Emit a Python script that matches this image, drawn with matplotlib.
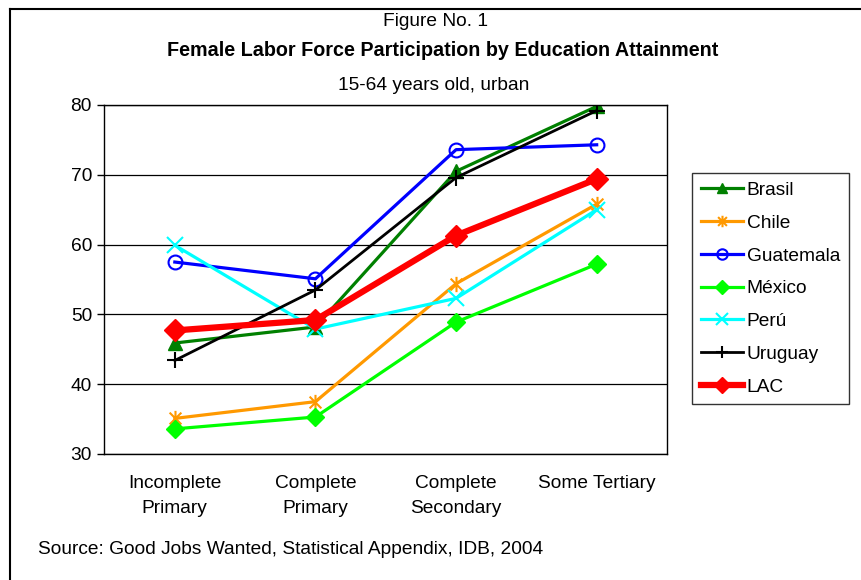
import matplotlib
matplotlib.use('Agg')
import matplotlib.pyplot as plt
from matplotlib.path import Path
from matplotlib.lines import Line2D

plt.rcParams['font.family'] = ['Liberation Sans', 'DejaVu Sans']

categories = ['Incomplete\nPrimary', 'Complete\nPrimary', 'Complete\nSecondary', 'Some Tertiary']

brasil = [45.9, 48.2, 70.5, 79.8]
chile = [35.1, 37.5, 54.4, 65.8]
guatemala = [57.5, 55.1, 73.6, 74.3]
mexico = [33.6, 35.3, 48.9, 57.2]
peru = [59.9, 47.9, 52.3, 65.0]
uruguay = [43.4, 53.5, 69.6, 79.2]
lac = [47.7, 49.2, 61.3, 69.4]

FS = 13.8

# asterisk like the excel one: an x plus a vertical bar
asterisk = Path([(-1, -1), (1, 1), (-1, 1), (1, -1), (0, -1.3), (0, 1.3)],
                [Path.MOVETO, Path.LINETO, Path.MOVETO, Path.LINETO, Path.MOVETO, Path.LINETO])

W, H = 862, 580
fig = plt.figure(figsize=(W / 100, H / 100), dpi=100)
ax = fig.add_axes([104.5 / W, 1 - 454 / H, (667 - 104.5) / W, (454 - 105) / H])

x = range(len(categories))
ax.plot(x, brasil, color='#008000', lw=2.3, marker='^', ms=10, label='Brasil')
ax.plot(x, chile, color='#FF9900', lw=2.3, marker=asterisk, ms=11, mew=1.5, label='Chile')
ax.plot(x, guatemala, color='#0000FF', lw=2.3, marker='o', ms=10, mfc='none', mew=1.5, label='Guatemala')
ax.plot(x, mexico, color='#00FF00', lw=2.3, marker='D', ms=9, label='México')
ax.plot(x, peru, color='#00FFFF', lw=2.3, marker='x', ms=11, mew=1.5, label='Perú')
ax.plot(x, uruguay, color='black', lw=2.0, marker='+', ms=12, mew=1.5, label='Uruguay')
ax.plot(x, lac, color='#FF0000', lw=4.5, marker='D', ms=11, label='LAC')

ax.set_xlim(-0.5, 3.5)
ax.set_ylim(30, 80)
ax.set_yticks([30, 40, 50, 60, 70, 80])
ax.set_xticks(list(x))
ax.set_xticklabels(categories, fontsize=FS, linespacing=1.62)
ax.tick_params(axis='x', length=0, pad=15)
ax.tick_params(axis='y', length=5, width=1, labelsize=FS, pad=4)
ax.yaxis.grid(True, color='black', lw=0.9)
ax.set_axisbelow(True)
for s in ax.spines.values():
    s.set_color('black')
    s.set_linewidth(1)

leg = fig.legend(loc='upper left', bbox_to_anchor=(692 / W, 1 - 173 / H), borderaxespad=0,
                 fontsize=FS, frameon=True, fancybox=False, edgecolor='black', handlelength=2.2,
                 handletextpad=0.2, labelspacing=0.8, borderpad=0.45, markerscale=0.75)
leg.get_frame().set_linewidth(1)

fig.text(436 / W, 1 - 21 / H, 'Figure No. 1', ha='center', va='center', fontsize=FS)
fig.text(443 / W, 1 - 50 / H, 'Female Labor Force Participation by Education Attainment',
         ha='center', va='center', fontsize=14.2, fontweight='bold')
fig.text(434 / W, 1 - 85 / H, '15-64 years old, urban', ha='center', va='center', fontsize=FS)
fig.text(38 / W, 1 - 550 / H, 'Source: Good Jobs Wanted, Statistical Appendix, IDB, 2004',
         ha='left', va='center', fontsize=FS)

# outer chart border, only top and left survive the crop
fig.add_artist(Line2D([10 / W, 10 / W], [0, 1 - 9 / H], transform=fig.transFigure, color='black', lw=1.5))
fig.add_artist(Line2D([10 / W, 1], [1 - 9 / H, 1 - 9 / H], transform=fig.transFigure, color='black', lw=1.5))

fig.savefig('out.png', dpi=100)
